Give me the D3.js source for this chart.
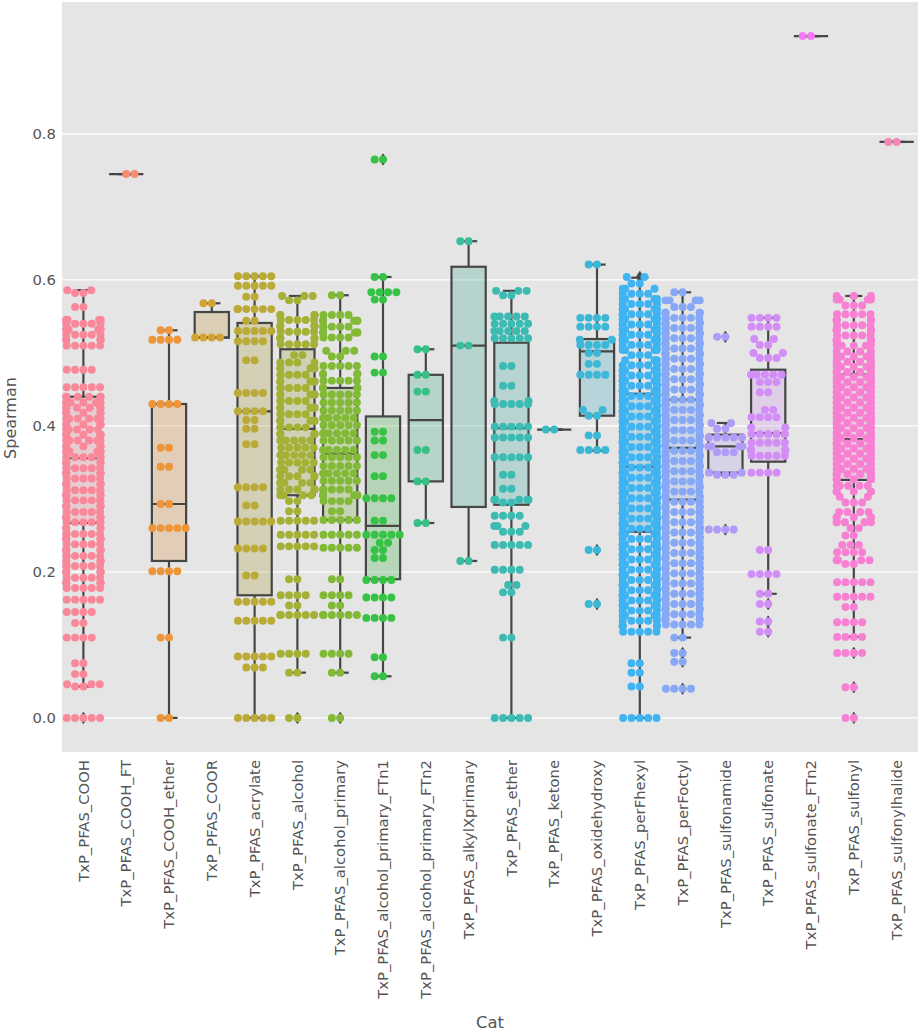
<!DOCTYPE html>
<html>
<head>
<meta charset="utf-8">
<script src="https://cdn.jsdelivr.net/npm/d3@7"></script>
<style>
  body { margin: 0; background: #fff; }
  text { font-family: "DejaVu Sans", sans-serif; }
</style>
</head>
<body>
<svg id="chart" width="920" height="1035"></svg>
<script>
// ---- data ----
var categories = ['TxP_PFAS_COOH', 'TxP_PFAS_COOH_FT', 'TxP_PFAS_COOH_ether', 'TxP_PFAS_COOR',
  'TxP_PFAS_acrylate', 'TxP_PFAS_alcohol', 'TxP_PFAS_alcohol_primary', 'TxP_PFAS_alcohol_primary_FTn1',
  'TxP_PFAS_alcohol_primary_FTn2', 'TxP_PFAS_alkylXprimary', 'TxP_PFAS_ether', 'TxP_PFAS_ketone',
  'TxP_PFAS_oxidehydroxy', 'TxP_PFAS_perFhexyl', 'TxP_PFAS_perFoctyl', 'TxP_PFAS_sulfonamide',
  'TxP_PFAS_sulfonate', 'TxP_PFAS_sulfonate_FTn2', 'TxP_PFAS_sulfonyl', 'TxP_PFAS_sulfonylhalide'];

// swarm points per category, as [spearman value, number of points at that value]
var pointRows = [
  // COOH
  [[0.586,2],[0.582,2],[0.563,2],[0.545,6],[0.540,5],[0.532,6],[0.525,5],[0.518,5],[0.510,5],[0.477,4],[0.453,5],
   [0.440,6],[0.432,6],[0.425,6],[0.418,5],[0.410,6],[0.402,6],[0.395,5],[0.388,6],[0.380,6],[0.372,5],[0.365,6],
   [0.357,6],[0.350,5],[0.342,6],[0.335,6],[0.328,5],[0.320,6],[0.312,6],[0.305,5],[0.298,6],[0.290,6],[0.282,5],
   [0.275,6],[0.268,6],[0.260,5],[0.252,6],[0.245,6],[0.238,5],[0.230,6],[0.222,6],[0.215,5],[0.208,6],[0.200,6],
   [0.192,5],[0.185,6],[0.178,5],[0.162,5],[0.145,4],[0.130,2],[0.110,4],[0.075,2],[0.060,2],[0.046,3],[0.043,2],[0.0,5]],
  // COOH_FT
  [[0.745,2]],
  // COOH_ether
  [[0.531,2],[0.518,4],[0.430,4],[0.370,2],[0.344,2],[0.293,2],[0.260,5],[0.201,4],[0.110,2],[0.0,2]],
  // COOR
  [[0.568,2],[0.521,4]],
  // acrylate
  [[0.605,5],[0.592,5],[0.577,2],[0.560,6],[0.544,2],[0.530,5],[0.516,4],[0.490,2],[0.445,4],[0.420,4],[0.408,2],
   [0.396,2],[0.375,2],[0.316,4],[0.291,2],[0.269,5],[0.232,4],[0.195,2],[0.159,5],[0.133,5],[0.084,5],[0.069,3],[0.0,5]],
  // alcohol
  [[0.578,3],[0.572,2],[0.552,5],[0.545,5],[0.537,5],[0.529,5],[0.520,5],[0.512,5],[0.497,2],[0.487,4],[0.479,5],
   [0.470,5],[0.461,5],[0.452,5],[0.443,5],[0.434,5],[0.425,5],[0.416,5],[0.407,5],[0.398,5],[0.389,5],[0.380,5],
   [0.370,5],[0.360,5],[0.350,5],[0.340,5],[0.331,5],[0.322,5],[0.313,5],[0.305,4],[0.297,2],[0.283,2],[0.270,5],
   [0.251,5],[0.235,5],[0.190,2],[0.168,4],[0.154,2],[0.141,6],[0.088,4],[0.062,2],[0.0,2]],
  // alcohol_primary
  [[0.579,2],[0.552,4],[0.544,5],[0.536,5],[0.528,5],[0.521,4],[0.503,3],[0.495,2],[0.482,5],[0.471,5],[0.462,5],
   [0.452,5],[0.443,5],[0.432,5],[0.421,5],[0.411,5],[0.401,5],[0.390,5],[0.380,5],[0.367,5],[0.357,5],[0.345,5],
   [0.335,5],[0.325,5],[0.313,5],[0.305,5],[0.297,4],[0.283,2],[0.271,5],[0.251,5],[0.233,5],[0.190,2],[0.168,4],
   [0.154,2],[0.141,6],[0.088,4],[0.062,2],[0.0,2]],
  // alcohol_primary_FTn1
  [[0.765,2],[0.604,2],[0.583,4],[0.573,2],[0.495,2],[0.473,2],[0.392,2],[0.380,2],[0.360,2],[0.331,2],[0.301,4],
   [0.270,2],[0.251,5],[0.240,2],[0.230,2],[0.219,2],[0.189,4],[0.165,4],[0.137,4],[0.083,2],[0.057,2]],
  // alcohol_primary_FTn2
  [[0.505,2],[0.470,2],[0.447,2],[0.367,2],[0.324,2],[0.267,2]],
  // alkylXprimary
  [[0.653,2],[0.510,2],[0.215,2]],
  // ether
  [[0.585,3],[0.579,2],[0.550,5],[0.540,5],[0.530,5],[0.520,5],[0.482,2],[0.455,2],[0.434,2],[0.430,5],[0.399,5],
   [0.384,5],[0.357,5],[0.333,2],[0.314,2],[0.299,5],[0.295,2],[0.277,4],[0.263,3],[0.255,3],[0.237,5],[0.203,4],
   [0.182,2],[0.172,2],[0.110,2],[0.0,5]],
  // ketone
  [[0.395,2]],
  // oxidehydroxy
  [[0.621,2],[0.548,4],[0.536,4],[0.518,2],[0.511,4],[0.500,2],[0.485,2],[0.470,4],[0.422,2],[0.414,2],[0.387,2],
   [0.367,4],[0.230,2],[0.156,2]],
  // perFhexyl
  [[0.604,2],[0.595,2],[0.588,3],[0.581,4],[0.574,4],[0.567,5],[0.560,6],[0.553,6],[0.546,6],[0.539,6],[0.532,6],
   [0.525,6],[0.518,6],[0.511,5],[0.504,4],[0.497,3],[0.490,3],[0.483,5],[0.476,6],[0.469,6],[0.462,6],[0.455,6],
   [0.448,6],[0.441,6],[0.434,6],[0.427,6],[0.420,6],[0.413,6],[0.406,6],[0.399,6],[0.392,6],[0.385,6],[0.378,6],
   [0.371,6],[0.364,6],[0.357,6],[0.350,6],[0.343,6],[0.336,6],[0.329,6],[0.322,6],[0.315,6],[0.308,6],[0.301,6],
   [0.294,6],[0.287,6],[0.280,6],[0.273,6],[0.266,6],[0.259,6],[0.252,6],[0.245,6],[0.238,6],[0.231,6],[0.224,6],
   [0.217,6],[0.210,6],[0.203,6],[0.196,6],[0.189,6],[0.182,6],[0.175,6],[0.168,6],[0.161,6],[0.154,5],[0.147,5],
   [0.140,5],[0.133,5],[0.126,5],[0.118,5],[0.075,2],[0.062,2],[0.043,2],[0.0,5]],
  // perFoctyl
  [[0.583,2],[0.572,4],[0.563,3],[0.555,5],[0.548,6],[0.541,6],[0.534,6],[0.527,6],[0.520,6],[0.513,6],[0.506,6],
   [0.499,6],[0.492,6],[0.485,6],[0.478,6],[0.471,6],[0.464,6],[0.457,6],[0.450,6],[0.443,6],[0.436,6],[0.429,6],
   [0.422,6],[0.415,6],[0.408,6],[0.401,6],[0.394,6],[0.387,6],[0.380,6],[0.373,6],[0.366,6],[0.359,6],[0.352,6],
   [0.345,6],[0.338,6],[0.331,6],[0.324,5],[0.317,5],[0.310,5],[0.303,5],[0.296,6],[0.289,6],[0.282,6],[0.275,6],
   [0.268,6],[0.261,6],[0.254,6],[0.247,6],[0.240,6],[0.233,6],[0.226,6],[0.219,6],[0.212,6],[0.205,6],[0.198,6],
   [0.191,6],[0.184,6],[0.177,6],[0.170,6],[0.163,5],[0.156,5],[0.149,5],[0.142,5],[0.135,5],[0.128,5],[0.110,2],
   [0.089,2],[0.077,2],[0.040,4]],
  // sulfonamide
  [[0.522,2],[0.404,2],[0.396,2],[0.384,5],[0.372,4],[0.364,3],[0.336,2],[0.333,3],[0.258,4]],
  // sulfonate
  [[0.548,4],[0.536,4],[0.519,2],[0.511,2],[0.500,2],[0.493,3],[0.470,5],[0.460,3],[0.446,2],[0.422,2],[0.412,4],
   [0.398,2],[0.389,5],[0.377,5],[0.367,5],[0.359,5],[0.336,4],[0.230,2],[0.197,4],[0.170,2],[0.156,2],[0.132,2],[0.118,2]],
  // sulfonate_FTn2
  [[0.934,2]],
  // sulfonyl
  [[0.578,3],[0.573,4],[0.565,3],[0.553,5],[0.545,6],[0.538,5],[0.531,6],[0.524,5],[0.517,6],[0.510,5],[0.502,4],
   [0.495,5],[0.488,6],[0.481,6],[0.474,6],[0.467,6],[0.460,6],[0.453,6],[0.446,6],[0.439,6],[0.432,6],[0.425,6],
   [0.418,6],[0.411,6],[0.404,6],[0.397,6],[0.390,6],[0.383,6],[0.376,6],[0.369,6],[0.362,6],[0.355,6],[0.348,6],
   [0.341,6],[0.334,6],[0.327,6],[0.318,5],[0.310,5],[0.303,2],[0.295,3],[0.282,4],[0.275,5],[0.268,5],[0.260,2],
   [0.250,2],[0.237,3],[0.227,4],[0.216,4],[0.211,2],[0.186,5],[0.166,5],[0.152,2],[0.131,4],[0.111,4],[0.089,4],
   [0.042,2],[0.0,2]],
  // sulfonylhalide
  [[0.789,2]]
];

// box statistics
var whiskerLow  = [0.043, 0.745, 0.0,   0.521, 0.0,   0.062, 0.062, 0.057, 0.267, 0.215, 0.0,   0.395, 0.366, 0.0,   0.110, 0.333, 0.170, 0.934, 0.111, 0.789];
var boxQ1       = [0.267, 0.745, 0.215, 0.521, 0.168, 0.305, 0.271, 0.190, 0.324, 0.289, 0.292, 0.395, 0.414, 0.255, 0.299, 0.336, 0.351, 0.934, 0.326, 0.789];
var boxMedian   = [0.356, 0.745, 0.293, 0.521, 0.420, 0.396, 0.362, 0.263, 0.408, 0.510, 0.397, 0.395, 0.502, 0.344, 0.370, 0.372, 0.390, 0.934, 0.382, 0.789];
var boxQ3       = [0.440, 0.745, 0.430, 0.556, 0.541, 0.505, 0.452, 0.413, 0.470, 0.618, 0.514, 0.395, 0.519, 0.444, 0.436, 0.388, 0.477, 0.934, 0.471, 0.789];
var whiskerHigh = [0.586, 0.745, 0.531, 0.568, 0.605, 0.578, 0.579, 0.604, 0.505, 0.653, 0.585, 0.395, 0.621, 0.603, 0.583, 0.404, 0.548, 0.934, 0.578, 0.789];

var yTicks = [0.0, 0.2, 0.4, 0.6, 0.8];
var yDomain = [-0.0467, 0.9807];

// ---- husl palette (same maths as seaborn's husl module) ----
var M = [[3.2406, -1.5372, -0.4986], [-0.9689, 1.8758, 0.0415], [0.0557, -0.2040, 1.0570]];
function maxChroma(L, H) {
  var hrad = H / 180 * Math.PI, sinH = Math.sin(hrad), cosH = Math.cos(hrad);
  var sub1 = Math.pow(L + 16, 3) / 1560896;
  var sub2 = sub1 > 0.008856 ? sub1 : L / 903.3;
  var result = Infinity;
  M.forEach(function(row) {
    var tp = (0.99915 * row[0] + 1.05122 * row[1] + 1.14460 * row[2]) * sub2;
    var rbottom = 0.86330 * row[2] - 0.17266 * row[1];
    var lbottom = 0.12949 * row[2] - 0.38848 * row[0];
    var bt = (rbottom * sinH + lbottom * cosH) * sub2;
    [0, 1].forEach(function(t) {
      var C = L * (tp - 1.05122 * t) / (bt + 0.17266 * sinH * t);
      if (C > 0 && C < result) result = C;
    });
  });
  return result;
}
function huslToRgb(H, S, L) {
  var C = maxChroma(L, H) / 100 * S;
  var hrad = H / 180 * Math.PI;
  var U = Math.cos(hrad) * C, V = Math.sin(hrad) * C;
  var t = (L + 16) / 116;
  var varY = Math.pow(t, 3) > 0.008856 ? Math.pow(t, 3) : (116 * t - 16) / 903.3;
  var varU = U / (13 * L) + 0.19784, varV = V / (13 * L) + 0.46834;
  var Y = varY;
  var X = -(9 * Y * varU) / ((varU - 4) * varV - varU * varV);
  var Z = (9 * Y - 15 * varV * Y - varV * X) / (3 * varV);
  return M.map(function(row) {
    var c = row[0] * X + row[1] * Y + row[2] * Z;
    c = c <= 0.0031308 ? 12.92 * c : 1.055 * Math.pow(c, 1 / 2.4) - 0.055;
    return Math.max(0, Math.min(1, c));
  });
}
function huslPalette(n, h, s, l) {
  var out = [];
  for (var i = 0; i < n; i++) {
    var hue = ((i / n + h) % 1) * 359;
    var c = huslToRgb(hue, s * 99, l * 99);
    out.push(d3.rgb(c[0] * 255, c[1] * 255, c[2] * 255));
  }
  return out;
}
var pointColors = huslPalette(categories.length, 0.01, 0.9, 0.7);
var boxColors = pointColors.map(function(c) {
  var hsl = d3.hsl(c);
  hsl.s *= 0.75;
  return hsl.rgb();
});
var grayLum = d3.min(boxColors, function(c) { return d3.hsl(c).l; }) * 0.6;
var lineGray = d3.rgb(grayLum * 255, grayLum * 255, grayLum * 255).formatHex();

// ---- layout ----
var svg = d3.select('#chart');
var plotL = 62, plotR = 918, plotT = 2, plotB = 752;

var x = d3.scaleBand().domain(categories).range([plotL, plotR]).padding(0);
var y = d3.scaleLinear().domain(yDomain).range([plotB, plotT]);

svg.append('rect')
  .attr('x', plotL).attr('y', plotT)
  .attr('width', plotR - plotL).attr('height', plotB - plotT)
  .attr('fill', '#e5e5e5');

// horizontal grid
svg.append('g')
  .selectAll('line')
  .data(yTicks)
  .join('line')
    .attr('x1', plotL).attr('x2', plotR)
    .attr('y1', d => y(d)).attr('y2', d => y(d))
    .attr('stroke', '#fff')
    .attr('stroke-width', 1.3);

// axes (no tick marks, like the reference)
var yAxis = svg.append('g')
  .attr('transform', 'translate(' + plotL + ',0)')
  .call(d3.axisLeft(y).tickValues(yTicks).tickFormat(d3.format('.1f')).tickSize(0).tickPadding(6));
var xAxis = svg.append('g')
  .attr('transform', 'translate(0,' + plotB + ')')
  .call(d3.axisBottom(x).tickSize(0));
[yAxis, xAxis].forEach(function(g) {
  g.select('.domain').remove();
  g.selectAll('.tick line').remove();
  g.selectAll('.tick text').attr('fill', '#555').style('font-size', '14.8px')
    .style('font-family', '"DejaVu Sans", sans-serif');
});
xAxis.selectAll('.tick text')
  .attr('transform', 'rotate(-90)')
  .attr('text-anchor', 'end')
  .attr('dy', '0.35em')
  .attr('x', -8)
  .attr('y', 0);

svg.append('text')
  .attr('x', (plotL + plotR) / 2).attr('y', 1028)
  .attr('text-anchor', 'middle')
  .attr('fill', '#555')
  .style('font-size', '16.5px')
  .text('Cat');
svg.append('text')
  .attr('transform', 'translate(16,418) rotate(-90)')
  .attr('text-anchor', 'middle')
  .attr('fill', '#555')
  .style('font-size', '16px')
  .text('Spearman');

// ---- boxes ----
var step = x.step();
var boxW = step * 0.8;
var boxG = svg.append('g');
categories.forEach(function(cat, i) {
  var cx = x(cat) + step / 2;
  var g = boxG.append('g');
  g.append('rect')
    .attr('x', cx - boxW / 2).attr('width', boxW)
    .attr('y', y(boxQ3[i])).attr('height', Math.max(0, y(boxQ1[i]) - y(boxQ3[i])))
    .attr('fill', boxColors[i]).attr('fill-opacity', 0.3)
    .attr('stroke', lineGray).attr('stroke-width', 2.2);
  [[whiskerLow[i], boxQ1[i]], [boxQ3[i], whiskerHigh[i]]].forEach(function(w) {
    g.append('line')
      .attr('x1', cx).attr('x2', cx)
      .attr('y1', y(w[0])).attr('y2', y(w[1]))
      .attr('stroke', lineGray).attr('stroke-width', 2.2);
  });
  [whiskerLow[i], whiskerHigh[i]].forEach(function(v) {
    g.append('line')
      .attr('x1', cx - boxW / 4).attr('x2', cx + boxW / 4)
      .attr('y1', y(v)).attr('y2', y(v))
      .attr('stroke', lineGray).attr('stroke-width', 2.2);
  });
  g.append('line')
    .attr('x1', cx - boxW / 2).attr('x2', cx + boxW / 2)
    .attr('y1', y(boxMedian[i])).attr('y2', y(boxMedian[i]))
    .attr('stroke', lineGray).attr('stroke-width', 2.2);
  // fliers: values outside the whiskers
  var fliers = pointRows[i].filter(r => r[0] < whiskerLow[i] - 1e-9 || r[0] > whiskerHigh[i] + 1e-9);
  g.selectAll('path.flier')
    .data(fliers)
    .join('path')
      .attr('class', 'flier')
      .attr('d', 'M0,-5.6L3.4,0L0,5.6L-3.4,0Z')
      .attr('transform', d => 'translate(' + cx + ',' + y(d[0]) + ')')
      .attr('fill', lineGray)
      .attr('stroke', lineGray)
      .attr('stroke-width', 1);
});

// ---- swarm (seaborn's beeswarm placement) ----
var radius = 3.97;
function beeswarm(pts, midline) {
  var swarm = [pts[0]];
  for (var i = 1; i < pts.length; i++) {
    var p = pts[i];
    var neighbors = [];
    for (var j = swarm.length - 1; j >= 0; j--) {
      if (p.yd - swarm[j].yd < 2 * radius) neighbors.push(swarm[j]);
      else break;
    }
    neighbors.reverse();
    var cands = [{ x: p.x, yd: p.yd, v: p.v }];
    var leftFirst = true;
    neighbors.forEach(function(q) {
      var dy = p.yd - q.yd;
      var dx = Math.sqrt(Math.max(4 * radius * radius - dy * dy, 0)) * 1.05;
      var cl = { x: q.x - dx, yd: p.yd, v: p.v }, cr = { x: q.x + dx, yd: p.yd, v: p.v };
      if (leftFirst) cands.push(cl, cr); else cands.push(cr, cl);
      leftFirst = !leftFirst;
    });
    cands = cands.map((c, k) => [c, k])
      .sort((a, b) => (Math.abs(a[0].x - midline) - Math.abs(b[0].x - midline)) || (a[1] - b[1]))
      .map(a => a[0]);
    var chosen = cands[0];
    if (neighbors.length) {
      for (var k = 0; k < cands.length; k++) {
        var c = cands[k];
        var ok = neighbors.every(function(q) {
          var ddx = q.x - c.x, ddy = q.yd - c.yd;
          return ddx * ddx + ddy * ddy >= 4 * radius * radius;
        });
        if (ok) { chosen = c; break; }
      }
    }
    swarm.push(chosen);
  }
  return swarm;
}

var swarmG = svg.append('g');
categories.forEach(function(cat, i) {
  var cx = x(cat) + step / 2;
  var values = [];
  pointRows[i].forEach(function(r) { for (var n = 0; n < r[1]; n++) values.push(r[0]); });
  values.sort(d3.ascending);
  var pts = values.map(v => ({ x: cx, yd: -y(v), v: v }));
  var placed = beeswarm(pts, cx);
  var half = step * 0.4;
  placed.forEach(function(p) { p.x = Math.max(cx - half, Math.min(cx + half, p.x)); });
  swarmG.append('g')
    .selectAll('circle')
    .data(placed)
    .join('circle')
      .attr('cx', d => d.x)
      .attr('cy', d => y(d.v))
      .attr('r', radius)
      .attr('fill', pointColors[i]);
});
</script>
</body>
</html>
